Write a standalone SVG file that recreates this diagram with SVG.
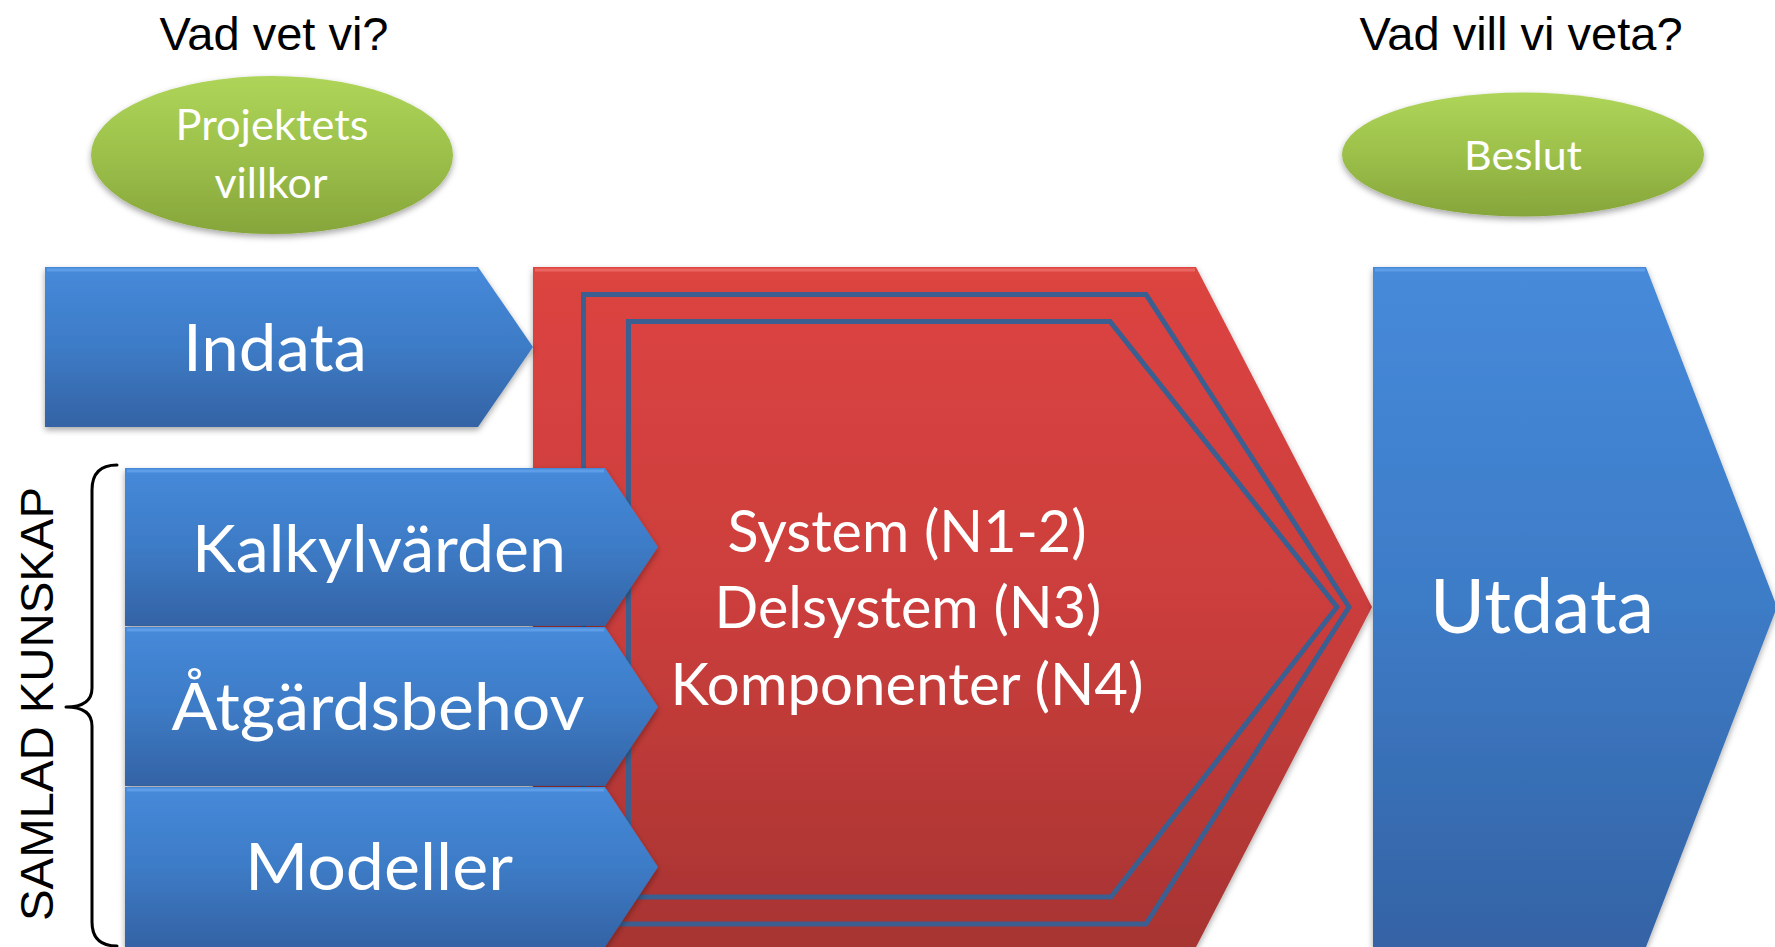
<svg xmlns="http://www.w3.org/2000/svg" width="1775" height="947" viewBox="0 0 1775 947">
  <style>
    .lbl { font-family: Lato, "Open Sans", "Liberation Sans", sans-serif; fill: #ffffff; text-anchor: middle; }
    .hdr { font-family: "Liberation Sans", Arial, sans-serif; fill: #000000; text-anchor: middle; font-size: 47px; }
    .blue { fill: url(#blueGrad); filter: url(#shadow); }
    .red { fill: url(#redGrad); filter: url(#shadow); }
    .green { fill: url(#greenGrad); filter: url(#shadow); }
    .hiB { fill: none; stroke: #64a3ea; stroke-width: 3; opacity: 0.8; }
    .hiR { fill: none; stroke: #ee6e69; stroke-width: 3; opacity: 0.8; }
    .frame { fill: none; stroke: #3b5f90; stroke-width: 5; stroke-linejoin: miter; }
    .brace { fill: none; stroke: #000000; stroke-width: 3; stroke-linecap: round; stroke-linejoin: round; }
  </style>
  <defs>
    <linearGradient id="blueGrad" x1="0" y1="0" x2="0" y2="1">
      <stop offset="0" stop-color="#468ada"/>
      <stop offset="0.5" stop-color="#3d7bc6"/>
      <stop offset="1" stop-color="#3463a5"/>
    </linearGradient>
    <linearGradient id="redGrad" x1="0" y1="0" x2="0" y2="1">
      <stop offset="0" stop-color="#dc4441"/>
      <stop offset="0.5" stop-color="#cb3e3c"/>
      <stop offset="1" stop-color="#a73432"/>
    </linearGradient>
    <linearGradient id="greenGrad" x1="0" y1="0" x2="0" y2="1">
      <stop offset="0" stop-color="#aed559"/>
      <stop offset="0.5" stop-color="#9cc04a"/>
      <stop offset="1" stop-color="#86a53b"/>
    </linearGradient>
    <filter id="shadow" x="-5%" y="-5%" width="110%" height="115%">
      <feDropShadow dx="0" dy="3" stdDeviation="3" flood-color="#000000" flood-opacity="0.35"/>
    </filter>
  </defs>

  <!-- headers -->
  <g id="header-left">
    <text class="hdr" x="274" y="50">Vad vet vi?</text>
  </g>
  <g id="header-right">
    <text class="hdr" x="1521" y="50">Vad vill vi veta?</text>
  </g>

  <!-- green ellipses -->
  <g id="projektets-villkor">
    <ellipse class="green" cx="272" cy="155" rx="181" ry="79"/>
    <text class="lbl" x="272" y="140" font-size="43" textLength="193" lengthAdjust="spacingAndGlyphs">Projektets</text>
    <text class="lbl" x="271" y="198" font-size="43" textLength="113" lengthAdjust="spacingAndGlyphs">villkor</text>
  </g>
  <g id="beslut">
    <ellipse class="green" cx="1523" cy="154.5" rx="181" ry="62"/>
    <text class="lbl" x="1523" y="170" font-size="40" textLength="118" lengthAdjust="spacingAndGlyphs">Beslut</text>
  </g>

  <!-- central red process -->
  <g id="process">
    <polygon class="red" points="533,267 1196,267 1372,607 1196,947 533,947"/>
    <polyline class="hiR" points="535,270 1195,270"/>
    <polygon class="frame" points="583.5,294.5 1146,294.5 1349,607 1146,924 583.5,924"/>
    <polygon class="frame" points="628.5,321.5 1110,321.5 1337,607 1111,897 628.5,897"/>
    <text class="lbl" x="907" y="552" font-size="59" textLength="359" lengthAdjust="spacingAndGlyphs">System (N1-2)</text>
    <text class="lbl" x="908" y="628" font-size="59" textLength="387" lengthAdjust="spacingAndGlyphs">Delsystem (N3)</text>
    <text class="lbl" x="907" y="705" font-size="59" textLength="473" lengthAdjust="spacingAndGlyphs">Komponenter (N4)</text>
  </g>

  <!-- inputs -->
  <g id="indata">
    <polygon class="blue" points="45,267 478,267 533,347 478,427 45,427"/>
    <polyline class="hiB" points="47,270 477,270"/>
    <text class="lbl" x="275" y="371" font-size="66" textLength="184" lengthAdjust="spacingAndGlyphs">Indata</text>
  </g>
  <g id="kalkylvarden">
    <polygon class="blue" points="125,468 605,468 658,547 605,626 125,626"/>
    <polyline class="hiB" points="127,471 604,471"/>
    <text class="lbl" x="379" y="572" font-size="65" textLength="374" lengthAdjust="spacingAndGlyphs">Kalkylvärden</text>
  </g>
  <g id="atgardsbehov">
    <polygon class="blue" points="125,627 605,627 658,707 605,786 125,786"/>
    <polyline class="hiB" points="127,630 604,630"/>
    <text class="lbl" x="378" y="730" font-size="65" textLength="413" lengthAdjust="spacingAndGlyphs">Åtgärdsbehov</text>
  </g>
  <g id="modeller">
    <polygon class="blue" points="125,787 605,787 658,867 605,947 125,947"/>
    <polyline class="hiB" points="127,790 604,790"/>
    <text class="lbl" x="379" y="890" font-size="65" textLength="268" lengthAdjust="spacingAndGlyphs">Modeller</text>
  </g>

  <!-- output -->
  <g id="utdata">
    <polygon class="blue" points="1373,267 1646,267 1777,607 1646,947 1373,947"/>
    <polyline class="hiB" points="1375,270 1645,270"/>
    <text class="lbl" x="1542" y="633" font-size="75" textLength="224" lengthAdjust="spacingAndGlyphs">Utdata</text>
  </g>

  <!-- brace annotation -->
  <g id="samlad-kunskap">
    <path class="brace" d="M117,465 Q92,465 92,490 L92,688 Q92,707 66,707 Q92,707 92,726 L92,922 Q92,946 117,946"/>
    <text class="hdr" transform="translate(53,704) rotate(-90)" x="0" y="0" font-size="55" textLength="434" lengthAdjust="spacingAndGlyphs">SAMLAD KUNSKAP</text>
  </g>

  <g id="connectors"/>
</svg>
